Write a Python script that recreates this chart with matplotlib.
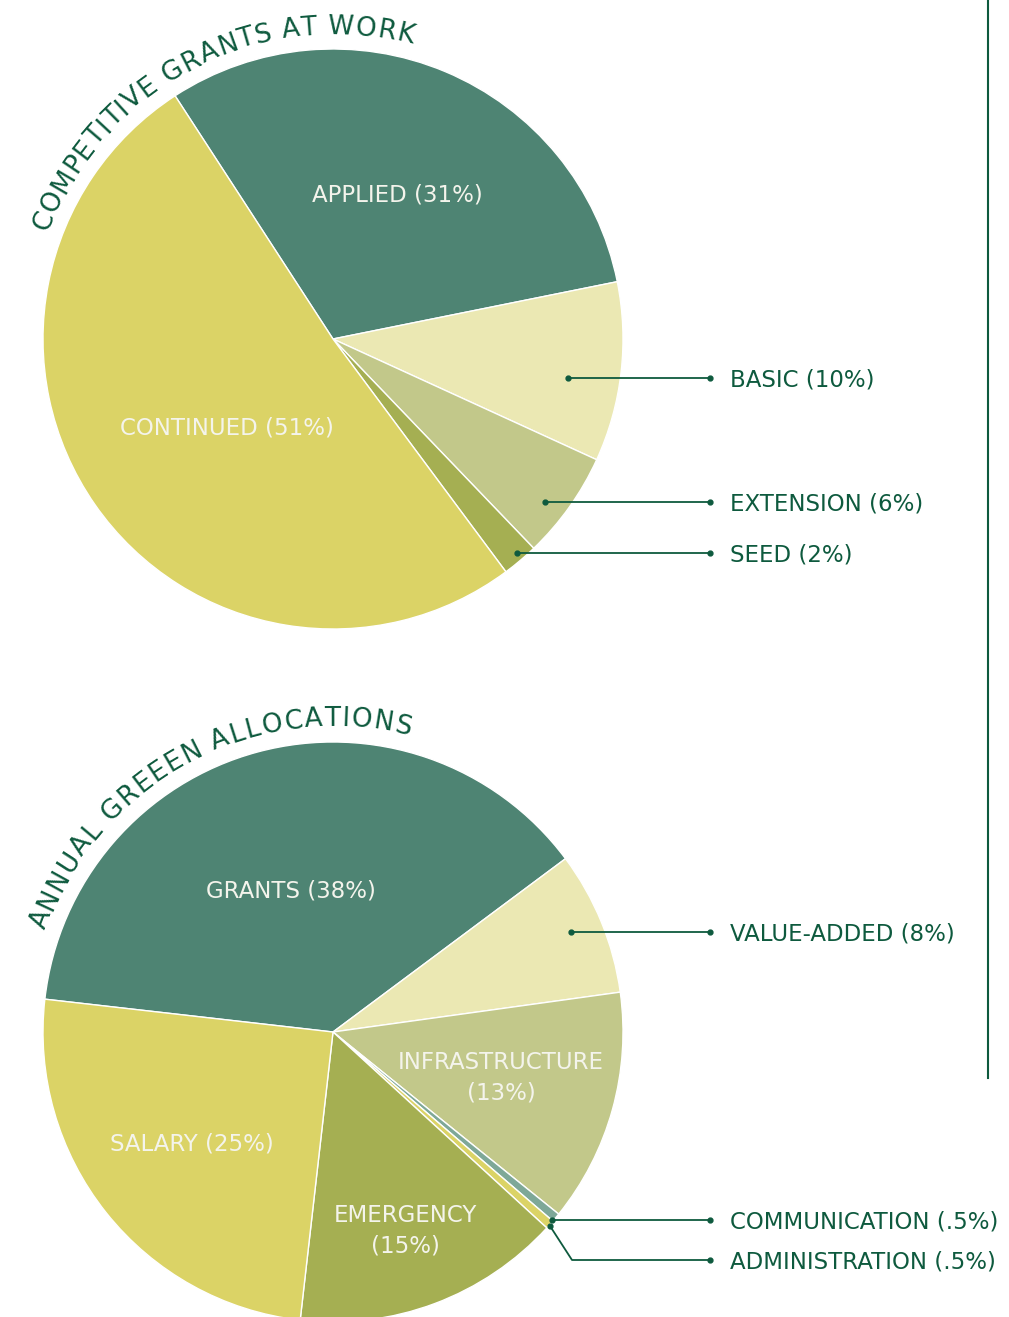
import numpy as np
import matplotlib
matplotlib.use("Agg")
import matplotlib.pyplot as plt

W, H = 1009, 1317

# data
grant_labels = ["APPLIED (31%)", "BASIC (10%)", "EXTENSION (6%)", "SEED (2%)", "CONTINUED (51%)"]
grant_values = [31, 10, 6, 2, 51]
green_labels = ["GRANTS (38%)", "VALUE-ADDED (8%)", "INFRASTRUCTURE\n(13%)", "COMMUNICATION (.5%)",
                "ADMINISTRATION (.5%)", "EMERGENCY\n(15%)", "SALARY (25%)"]
green_values = [38, 8, 13, 0.5, 0.5, 15, 25]

teal = "#4E8473"
yellow = "#DBD366"
pale = "#EBE8B3"
sage = "#C2C88A"
olive = "#A5AF52"
greyteal = "#7EA898"
dark = "#0E5A3E"
light = "#F4F4EC"

grant_colors = [teal, pale, sage, olive, yellow]
green_colors = [teal, pale, sage, greyteal, yellow, olive, yellow]

FONT = "DejaVu Sans"
FS = 16.5

fig = plt.figure(figsize=(W / 100, H / 100), dpi=100)
ax = fig.add_axes([0, 0, 1, 1])

c1 = (333, H - 339)
c2 = (333, H - 1032)
R = 290

wp = dict(edgecolor="white", linewidth=1)
w1, _ = ax.pie(grant_values, colors=grant_colors, startangle=123, counterclock=False,
               center=c1, radius=R, wedgeprops=wp)
w2, _ = ax.pie(green_values, colors=green_colors, startangle=173.5, counterclock=False,
               center=c2, radius=R, wedgeprops=wp)

ax.set_xlim(0, W)
ax.set_ylim(0, H)
ax.set_aspect("equal")
ax.axis("off")

# labels inside the slices
inner = [(grant_labels[0], 397, 195), (grant_labels[4], 227, 428), (green_labels[0], 291, 891),
         (green_labels[2], 501, 1078), (green_labels[5], 405, 1231), (green_labels[6], 192, 1144)]
for txt, x, y in inner:
    ax.text(x, H - y, txt, color=light, fontsize=FS, family=FONT, ha="center", va="center",
            linespacing=1.4)


def callout(label, ax_x, ax_y, ly=None, elbow=None):
    if ly is None:
        ly = ax_y
    xs, ys = [ax_x, 710], [H - ax_y, H - ly]
    if elbow is not None:
        xs.insert(1, elbow)
        ys.insert(1, H - ly)
    ax.plot(xs, ys, color=dark, lw=1.3, solid_capstyle="butt")
    ax.plot([xs[0], xs[-1]], [ys[0], ys[-1]], "o", color=dark, ms=3.5)
    ax.text(730, H - ly - 2, label, color=dark, fontsize=FS, family=FONT, ha="left", va="center")


callout(grant_labels[1], 568, 378)
callout(grant_labels[2], 545, 502)
callout(grant_labels[3], 517, 553)
callout(green_labels[1], 571, 932)
callout(green_labels[3], 552, 1220)
callout(green_labels[4], 550, 1226, 1260, elbow=572)

# vertical rule on the right
ax.plot([988, 988], [H, H - 1078], color=dark, lw=1.5)

fig.canvas.draw()
renderer = fig.canvas.get_renderer()


def char_w(ch, size):
    t = ax.text(0, 0, "i" + ch + "i", fontsize=size, family=FONT)
    a = t.get_window_extent(renderer).width
    t.remove()
    t = ax.text(0, 0, "ii", fontsize=size, family=FONT)
    b = t.get_window_extent(renderer).width
    t.remove()
    return a - b


def arc_text(text, c, r, a_start, a_end, size):
    ws = np.array([char_w(ch, size) for ch in text])
    arc = r * np.deg2rad(a_start - a_end)
    gap = (arc - ws.sum()) / (len(text) - 1)
    pos = 0.0
    for ch, w in zip(text, ws):
        ang = np.deg2rad(a_start) - (pos + w / 2) / r
        ax.text(c[0] + r * np.cos(ang), c[1] + r * np.sin(ang), ch, fontsize=size, family=FONT,
                color=dark, ha="center", va="baseline", rotation=np.rad2deg(ang) - 90,
                rotation_mode="anchor")
        pos += w + gap


arc_text("COMPETITIVE GRANTS AT WORK", c1, 305, 159.5, 75, 19)
arc_text("ANNUAL GREEEN ALLOCATIONS", c2, 306, 160.5, 75.5, 19)

fig.savefig("out.png", dpi=100)
